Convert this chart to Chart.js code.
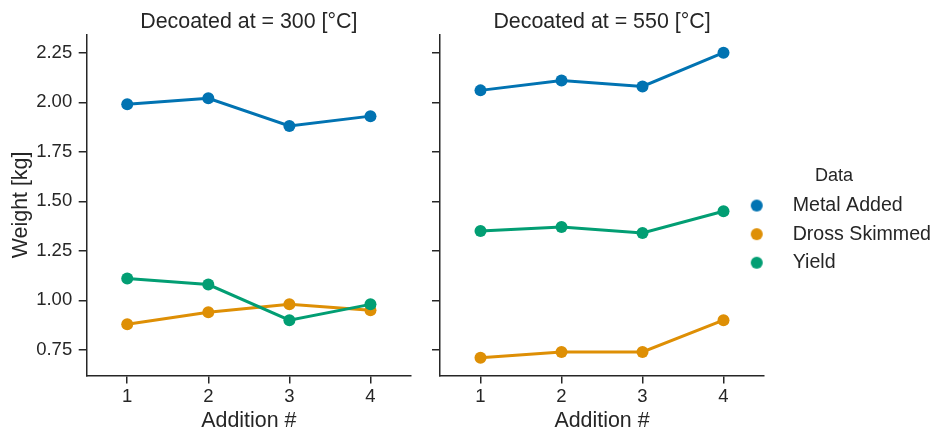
<!DOCTYPE html>
<html>
<head>
<meta charset="utf-8">
<script src="https://cdn.jsdelivr.net/npm/chart.js@4/dist/chart.umd.min.js"></script>
<style>
  html, body { margin: 0; padding: 0; background: #ffffff; }
  #wrap { position: relative; width: 935px; height: 432px; overflow: hidden; }
  canvas { position: absolute; top: 0; }
</style>
</head>
<body>
<div id="wrap">
  <canvas id="c300" width="420" height="432" style="left:0px"></canvas>
  <canvas id="c550" width="515" height="432" style="left:420px"></canvas>
</div>
<script>
// ---- data ----
const additions = ['1', '2', '3', '4'];
const seriesNames = ['Metal Added', 'Dross Skimmed', 'Yield'];
const panelTitles = ['Decoated at = 300 [°C]', 'Decoated at = 550 [°C]'];
const metal300 = [1.99, 2.02, 1.88, 1.93];
const dross300 = [0.88, 0.94, 0.98, 0.95];
const yield300 = [1.11, 1.08, 0.90, 0.98];
const metal550 = [2.06, 2.11, 2.08, 2.25];
const dross550 = [0.71, 0.74, 0.74, 0.90];
const yield550 = [1.35, 1.37, 1.34, 1.45];
const yTicks = [0.75, 1.00, 1.25, 1.50, 1.75, 2.00, 2.25];
const yMin = 0.621, yMax = 2.343;

// ---- style ----
const colors = ['#0173b2', '#de8f05', '#029e73'];
const ink = '#262626';
const FAMILY = "'Liberation Sans', Arial, Helvetica, sans-serif";
Chart.defaults.font.family = FAMILY;
Chart.defaults.color = ink;

function makeDatasets(vals) {
  return vals.map((v, i) => ({
    label: seriesNames[i],
    data: v,
    borderColor: colors[i],
    backgroundColor: colors[i],
    pointBackgroundColor: colors[i],
    pointBorderWidth: 0,
    pointRadius: 6,
    pointHoverRadius: 6,
    borderWidth: 3,
    tension: 0,
    order: 3 - i
  }));
}

const panelTitlePlugin = {
  id: 'panelTitle',
  afterDraw(chart, args, opts) {
    const ca = chart.chartArea, ctx = chart.ctx;
    ctx.save();
    ctx.font = '21.4px ' + FAMILY;
    ctx.fillStyle = ink;
    ctx.textAlign = 'center';
    ctx.textBaseline = 'alphabetic';
    ctx.fillText(opts.text, (ca.left + ca.right) / 2, 28);
    ctx.restore();
  }
};

// legend box placement: let the legend overlap the right margin like the reference
const legendPlacePlugin = {
  id: 'legendPlace',
  afterLayout(chart, args, opts) {
    const lg = chart.legend;
    if (!lg || !opts.enabled) return;
    lg.left = opts.left;
    lg.width = opts.width;
    lg.right = opts.left + opts.width;
  }
};

function legendDot(color) {
  const c = document.createElement('canvas');
  c.width = 14; c.height = 14;
  const g = c.getContext('2d');
  g.fillStyle = color;
  g.beginPath();
  g.arc(7, 7, 6, 0, Math.PI * 2);
  g.fill();
  return c;
}
const legendDots = colors.map(legendDot);

function gridOpts() {
  return { display: true, drawOnChartArea: false, drawTicks: true, tickLength: 8,
           color: ink, lineWidth: 1.5, offset: false };
}

function makeChart(id, vals, title, isLeft) {
  return new Chart(document.getElementById(id), {
    type: 'line',
    data: { labels: additions, datasets: makeDatasets(vals) },
    options: {
      responsive: false,
      animation: false,
      devicePixelRatio: 1,
      layout: { padding: { top: 34.3, left: 0, right: isLeft ? 9 : 31, bottom: 0 } },
      plugins: {
        panelTitle: { text: title },
        legendPlace: { enabled: !isLeft, left: 301.5, width: 225 },
        tooltip: { enabled: false },
        legend: isLeft ? { display: false } : {
          display: true,
          position: 'right',
          fullSize: false,
          maxWidth: 140,
          labels: {
            usePointStyle: true,
            pointStyleWidth: 52.4,
            padding: 9,
            color: ink,
            font: { size: 19.6, family: FAMILY },
            sort: (a, b) => a.datasetIndex - b.datasetIndex,
            generateLabels(chart) {
              const items = Chart.defaults.plugins.legend.labels.generateLabels(chart);
              items.forEach(it => { it.pointStyle = legendDots[it.datasetIndex]; });
              return items;
            }
          },
          title: {
            display: true,
            text: 'Data',
            color: ink,
            position: 'center',
            font: { size: 18, family: FAMILY, lineHeight: 1.1 },
            padding: { top: 38.7, bottom: 0 }
          }
        }
      },
      scales: {
        x: {
          type: 'category',
          offset: true,
          grid: gridOpts(),
          border: { display: true, color: ink, width: 1.5 },
          ticks: { padding: 2, font: { size: 18.5 }, color: ink, maxRotation: 0 },
          title: { display: true, text: 'Addition #', color: ink,
                   font: { size: 21.4, lineHeight: 1.0 }, padding: { top: 0, bottom: 0 } },
          afterFit(s) { s.height = 56.5; }
        },
        y: {
          type: 'linear',
          min: yMin, max: yMax,
          grid: gridOpts(),
          border: { display: true, color: ink, width: 1.5 },
          afterBuildTicks(s) { s.ticks = yTicks.map(v => ({ value: v })); },
          ticks: { display: isLeft, padding: 6.5, font: { size: 18.5 }, color: ink,
                   callback: v => Number(v).toFixed(2) },
          title: { display: isLeft, text: 'Weight [kg]', color: ink,
                   font: { size: 21.4, lineHeight: 1.2 }, padding: { top: 8.5, bottom: 0 } },
          afterFit(s) { s.width = isLeft ? 86.7 : 20; }
        }
      }
    },
    plugins: [panelTitlePlugin, legendPlacePlugin]
  });
}

makeChart('c300', [metal300, dross300, yield300], panelTitles[0], true);
makeChart('c550', [metal550, dross550, yield550], panelTitles[1], false);
</script>
</body>
</html>
